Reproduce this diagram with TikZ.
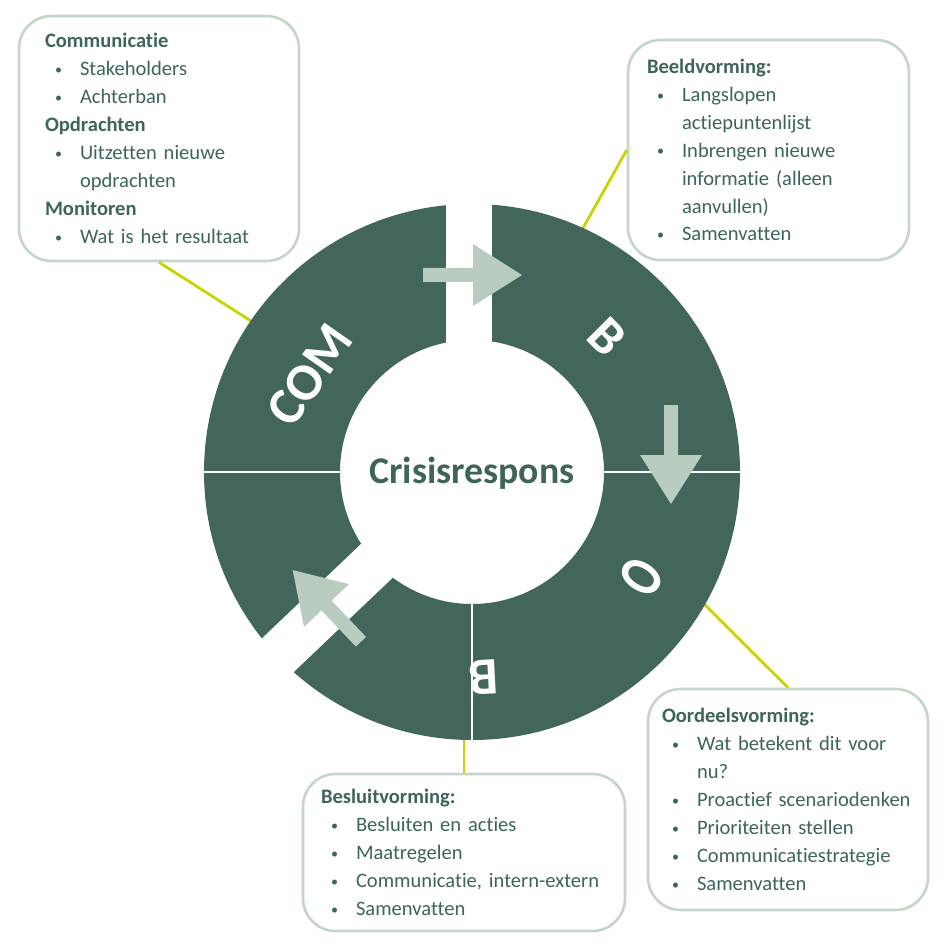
\documentclass[tikz,border=0pt]{standalone}
\usepackage{fontspec}
\setmainfont[Ligatures=NoCommon]{Carlito}

\definecolor{ringgreen}{HTML}{42665A}
\definecolor{arrowgreen}{HTML}{B8CDC0}
\definecolor{boxline}{HTML}{C3D6C8}
\definecolor{textgreen}{HTML}{3E6557}
\definecolor{linkyellow}{HTML}{C8D400}

\newcommand{\bitem}[1]{\mbox{\makebox[0.7cm][l]{\hspace{0.2cm}\raisebox{0.06em}{\fontsize{8}{8}\selectfont\textbullet}}#1}}
\newcommand{\bcont}[1]{\mbox{\hspace*{0.7cm}#1}}

\tikzset{
  infobox/.style={draw=boxline, line width=1.5pt, rounded corners=0.65cm, fill=white,
    align=left, text=textgreen, font=\fontsize{11.7}{15.9}\selectfont, inner ysep=2pt},
  ringletter/.style={text=white, font=\bfseries\fontsize{30}{30}\selectfont, inner sep=0pt},
  link/.style={draw=linkyellow, line width=1.6pt},
  flowarrow/.style={fill=arrowgreen},
  gapstrip/.style={fill=white},
}

\begin{document}
\begin{tikzpicture}[x=0.02cm, y=-0.02cm]
    \useasboundingbox (0,0) rectangle (945,945);

    % Boxes
    \node[infobox, text width=4.56cm, inner xsep=0.52cm, minimum height=4.9cm] (combox) at (159,138.5) {
      \textbf{Communicatie}\\
      \bitem{Stakeholders}\\
      \bitem{Achterban}\\
      \textbf{Opdrachten}\\
      \bitem{Uitzetten nieuwe}\\
      \bcont{opdrachten}\\
      \textbf{Monitoren}\\
      \bitem{Wat is het resultaat}};
    \node[infobox, text width=4.86cm, inner xsep=0.38cm, minimum height=4.4cm] (beeldbox) at (768.5,150) {
      \textbf{Beeldvorming:}\\
      \bitem{Langslopen}\\
      \bcont{actiepuntenlijst}\\
      \bitem{Inbrengen nieuwe}\\
      \bcont{informatie (alleen}\\
      \bcont{aanvullen)}\\
      \bitem{Samenvatten}};
    \node[infobox, text width=5.04cm, inner xsep=0.28cm, minimum height=4.42cm] (oordeelbox) at (788,799.5) {
      \textbf{Oordeelsvorming:}\\
      \bitem{Wat betekent dit voor}\\
      \bcont{nu?}\\
      \bitem{Proactief scenariodenken}\\
      \bitem{Prioriteiten stellen}\\
      \bitem{Communicatiestrategie}\\
      \bitem{Samenvatten}};
    \node[infobox, text width=5.72cm, inner xsep=0.36cm, minimum height=3.14cm] (besluitbox) at (464,852.5) {
      \textbf{Besluitvorming:}\\
      \bitem{Besluiten en acties}\\
      \bitem{Maatregelen}\\
      \bitem{Communicatie, intern-extern}\\
      \bitem{Samenvatten}};

    % Links from the boxes to the ring
    \coordinate (hub) at (472,472);
    \coordinate (comring) at (262,328);
    \coordinate (beeldring) at (578,237);
    \coordinate (oordeelring) at (698,598);
    \coordinate (besluitring) at (464,730);
    \draw[link] (combox.south) -- (comring);
    \draw[link] (beeldbox.west) -- (beeldring);
    \draw[link] (oordeelbox.north) -- (oordeelring);
    \draw[link] (besluitbox.north) -- (besluitring);

    % Ring
    \fill[ringgreen, even odd rule] (hub) circle (268) (hub) circle (132);
    \fill[gapstrip] (446,195) -- (492,195) -- (492,400) -- (446,400) -- cycle;
    \fill[gapstrip] (397.2,509.5) -- (237.9,661.3) -- (269.8,694.8) -- (429.1,543) -- cycle;
    \draw[white, line width=0.6pt] (200,472) -- (345,472);
    \draw[white, line width=0.6pt] (600,472) -- (745,472);
    \draw[white, line width=0.6pt] (472,600) -- (472,745);

    % Letters on the ring
    \node[ringletter, rotate=55] (comtxt) at (310,375) {COM};
    \node[ringletter, rotate=-45] (btoptxt) at (606.7,336.7) {B};
    \node[ringletter, rotate=-122, xscale=0.85, yscale=1.18] (otxt) at (641.7,576.7) {O};
    \node[ringletter, rotate=-177] (bbottxt) at (483.3,677.3) {B};

    % Arrows
    \foreach \ax/\ay/\ang in {472.5/275/0, 671/454.5/-90, 326.8/605.9/133.6} {
      \fill[flowarrow, shift={(\ax,\ay)}, rotate=\ang]
        (-49.5,-7) -- (0.5,-7) -- (0.5,-31) -- (49.5,0) -- (0.5,31) -- (0.5,7) -- (-49.5,7) -- cycle;
    }

    \node[text=textgreen, font=\bfseries\fontsize{21.5}{21.5}\selectfont, anchor=base] (hubtxt) at (472,483) {Crisisrespons};

\end{tikzpicture}
\end{document}
